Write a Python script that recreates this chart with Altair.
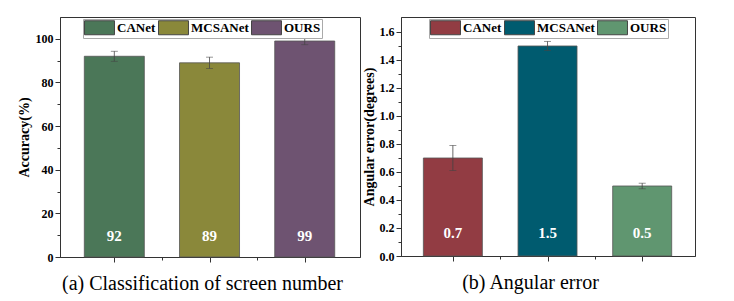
import altair as alt
import pandas as pd

SERIF = "Liberation Serif"

categories = ["CANet", "MCSANet", "OURS"]
positions = [1, 2, 3]

accuracy = [92, 89, 99]
accuracy_err = [2.3, 2.6, 1.7]
acc_colors = ["#4b7758", "#8a883a", "#6e5371"]
acc_ticks = [0, 10, 20, 30, 40, 50, 60, 70, 80, 90, 100]

angular = [0.7, 1.5, 0.5]
angular_err = [0.09, 0.033, 0.02]
ang_colors = ["#923c43", "#005b6f", "#609670"]
ang_ticks = [0.0, 0.1, 0.2, 0.3, 0.4, 0.5, 0.6, 0.7, 0.8, 0.9, 1.0, 1.1, 1.2, 1.3, 1.4, 1.5, 1.6]

x_ticks = [1, 1.5, 2, 2.5, 3]


def panel(vals, errs, colors, ymax, yticks, label_test, label_fmt, ytitle,
          xtitle, title_x, legend_x, xdomain, bar_size, w, h, text_y, ytitle_pad):
    df = pd.DataFrame({"method": categories, "pos": positions,
                       "value": vals, "err": errs})
    base = alt.Chart(df).transform_calculate(
        lo="datum.value - datum.err", hi="datum.value + datum.err"
    )
    x_axis = alt.Axis(
        values=x_ticks, tickCount=50, labelExpr="''", grid=False, labelOverlap=False,
        tickSize={"condition": {"test": "datum.value % 1 === 0", "value": 5}, "value": 3},
        tickColor="#333", domainColor="#333",
        title=xtitle, titleFont=SERIF, titleFontSize=20, titleFontWeight="normal",
        titleColor="black", titleX=title_x, titleY=32, titleBaseline="alphabetic",
        titleAnchor="middle", titleAlign="center",
    )
    y_axis = alt.Axis(
        values=yticks, tickCount=50, grid=False, labelOverlap=False,
        labelExpr=f"({label_test}) ? format(datum.value, '{label_fmt}') : ''",
        tickSize={"condition": {"test": label_test, "value": 5}, "value": 3},
        tickColor="#333", domainColor="#333",
        labelFont=SERIF, labelFontSize=12, labelFontWeight="bold", labelColor="black",
        labelPadding=2,
        title=ytitle, titleFont=SERIF, titleFontSize=14, titleFontWeight="bold",
        titleColor="black", titlePadding=ytitle_pad,
    )
    x = alt.X("pos:Q", scale=alt.Scale(domain=xdomain, nice=False, zero=False), axis=x_axis)
    y = alt.Y("value:Q", scale=alt.Scale(domain=[0, ymax], nice=False), axis=y_axis)
    bars = base.mark_bar(size=bar_size, stroke="#555", strokeWidth=0.8).encode(
        x=x, y=y,
        color=alt.Color(
            "method:N",
            scale=alt.Scale(domain=categories, range=colors),
            legend=alt.Legend(
                orient="none", legendX=legend_x, legendY=2, direction="horizontal",
                title=None, strokeColor="#aaa", fillColor="white", padding=1,
                symbolType="M-2.14,-1H2.14V1H-2.14Z", symbolSize=196,
                symbolOffset=8,
                symbolStrokeColor="#444", symbolStrokeWidth=1, symbolOpacity=1,
                labelFont=SERIF, labelFontSize=13, labelFontWeight="bold",
                labelColor="black", labelOffset=10, columnPadding=0,
            ),
        ),
    )
    rule = base.mark_rule(color="#444", strokeWidth=0.8).encode(
        x="pos:Q", y="lo:Q", y2="hi:Q")
    cap_hi = base.mark_tick(orient="horizontal", size=7, thickness=0.8, color="#444").encode(
        x="pos:Q", y="hi:Q")
    cap_lo = base.mark_tick(orient="horizontal", size=7, thickness=0.8, color="#444").encode(
        x="pos:Q", y="lo:Q")
    text = base.mark_text(color="white", font=SERIF, fontSize=15, fontWeight="bold",
                          baseline="middle").encode(
        x="pos:Q", y=alt.value(text_y),
        text=alt.Text("value:Q", format=label_fmt if label_fmt != ".0f" else "d"))
    return alt.layer(bars, rule, cap_hi, cap_lo, text).properties(width=w, height=h)


left = panel(accuracy, accuracy_err, acc_colors, 110, acc_ticks,
             "datum.value % 20 === 0", ".0f", "Accuracy(%)",
             "(a) Classification of screen number", 142, 23,
             [0.482, 3.528], 60, 300, 240, 219, 4)
right = panel(angular, angular_err, ang_colors, 1.707, ang_ticks,
              "round(datum.value * 10) % 2 === 0", ".1f", "Angular error(degrees)",
              "(b) Angular error", 129, 28,
              [0.505, 3.505], 59, 294, 239, 216, 3)

chart = alt.hconcat(left, right, spacing=0).resolve_scale(color="independent").configure_view(
    stroke="#333", strokeWidth=1
).properties(
    padding={"left": 8, "top": 8, "right": 5, "bottom": 0},
    background="white",
)

chart.save("out.html", embed_options={"renderer": "svg", "actions": False})
